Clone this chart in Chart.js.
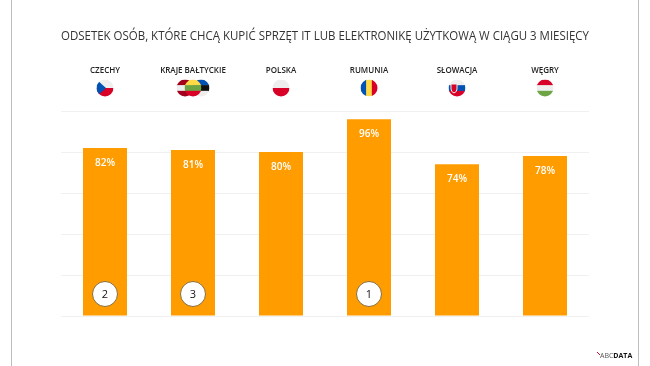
<!DOCTYPE html>
<html lang="pl">
<head>
<meta charset="utf-8">
<title>Odsetek osób</title>
<script src="https://cdn.jsdelivr.net/npm/chart.js@4"></script>
<style>
    html, body { margin: 0; padding: 0; background: #fff; }
    canvas { display: block; }
</style>
</head>
<body>
<canvas id="chart" width="650" height="366"></canvas>
<script>
// ============================================================================
// DATA
// ============================================================================

const chartTitle = 'ODSETEK OSÓB, KTÓRE CHCĄ KUPIĆ SPRZĘT IT LUB ELEKTRONIKĘ UŻYTKOWĄ W CIĄGU 3 MIESIĘCY';
const countries = ['CZECHY', 'KRAJE BAŁTYCKIE', 'POLSKA', 'RUMUNIA', 'SŁOWACJA', 'WĘGRY'];
const percentValues = [82, 81, 80, 96, 74, 78];
const rankBadges = [2, 3, null, 1, null, null];
const logoLight = 'ABC';
const logoBold = 'DATA';

// Flag stripes per country: h = horizontal, v = vertical
const FLAGS = {
    cz: { dir: 'h', colors: ['#eeeeee', '#d80027'] },
    lv: { dir: 'h', colors: ['#a2001d', '#eeeeee', '#a2001d'] },
    lt: { dir: 'h', colors: ['#ffda44', '#6da544', '#d80027'] },
    ee: { dir: 'h', colors: ['#0052b4', '#111111', '#eeeeee'] },
    pl: { dir: 'h', colors: ['#eeeeee', '#d80027'] },
    ro: { dir: 'v', colors: ['#0052b4', '#ffda44', '#d80027'] },
    sk: { dir: 'h', colors: ['#eeeeee', '#0052b4', '#d80027'] },
    hu: { dir: 'h', colors: ['#d80027', '#eeeeee', '#6da544'] }
};
const countryFlags = [['cz'], ['lv', 'ee', 'lt'], ['pl'], ['ro'], ['sk'], ['hu']];

// ============================================================================
// DRAWING HELPERS
// ============================================================================

const FONT = '"Open Sans", sans-serif';
const FLAG_R = 8.5;
const FLAG_Y = 88;

function drawFlag(ctx, code, cx, cy) {
    const flag = FLAGS[code];
    const d = FLAG_R * 2;
    ctx.save();
    ctx.beginPath();
    ctx.arc(cx, cy, FLAG_R, 0, Math.PI * 2);
    ctx.clip();
    flag.colors.forEach((c, i) => {
        const step = d / flag.colors.length;
        ctx.fillStyle = c;
        if (flag.dir === 'h') ctx.fillRect(cx - FLAG_R, cy - FLAG_R + i * step, d, step + 0.5);
        else ctx.fillRect(cx - FLAG_R + i * step, cy - FLAG_R, step + 0.5, d);
    });
    if (code === 'cz') {
        // Blue wedge on the hoist side
        ctx.fillStyle = '#0052b4';
        ctx.beginPath();
        ctx.moveTo(cx - FLAG_R, cy - FLAG_R);
        ctx.lineTo(cx + 1, cy);
        ctx.lineTo(cx - FLAG_R, cy + FLAG_R);
        ctx.fill();
    }
    if (code === 'sk') {
        // Small shield
        ctx.fillStyle = '#d80027';
        ctx.strokeStyle = '#eeeeee';
        ctx.beginPath();
        ctx.moveTo(cx - 6, cy - 4);
        ctx.lineTo(cx, cy - 4);
        ctx.lineTo(cx, cy + 1);
        ctx.quadraticCurveTo(cx, cy + 4, cx - 3, cy + 5);
        ctx.quadraticCurveTo(cx - 6, cy + 4, cx - 6, cy + 1);
        ctx.closePath();
        ctx.fill();
        ctx.stroke();
    }
    ctx.restore();
}

const decorPlugin = {
    id: 'decor',
    beforeDraw(chart) {
        const { ctx, width, height } = chart;
        ctx.save();
        ctx.fillStyle = '#fff';
        ctx.fillRect(0, 0, width, height);
        // Slide edges
        ctx.fillStyle = '#bdbdbd';
        ctx.fillRect(11, 0, 1, height);
        ctx.fillRect(638, 0, 1, height);
        ctx.restore();
    },
    afterDatasetsDraw(chart) {
        const { ctx, scales } = chart;
        const meta = chart.getDatasetMeta(0);
        ctx.save();

        // Flags under the country names
        countryFlags.forEach((codes, i) => {
            const x = scales.x.getPixelForValue(i);
            if (codes.length === 1) drawFlag(ctx, codes[0], x, FLAG_Y);
            else {
                drawFlag(ctx, codes[0], x - 8, FLAG_Y);
                drawFlag(ctx, codes[1], x + 8, FLAG_Y);
                drawFlag(ctx, codes[2], x, FLAG_Y);
            }
        });

        // Value labels inside the bars
        ctx.textAlign = 'center';
        ctx.textBaseline = 'middle';
        ctx.fillStyle = '#fff';
        ctx.font = '600 10px ' + FONT;
        meta.data.forEach((bar, i) => {
            ctx.fillText(percentValues[i] + '%', bar.x, bar.y + 15);
        });

        // Ranking badges at the foot of the bars
        rankBadges.forEach((rank, i) => {
            if (rank === null) return;
            const x = meta.data[i].x;
            const y = scales.y.getPixelForValue(0) - 22;
            ctx.beginPath();
            ctx.arc(x, y, 12.5, 0, Math.PI * 2);
            ctx.fillStyle = '#fff';
            ctx.fill();
            ctx.lineWidth = 1;
            ctx.strokeStyle = '#8a6d3b';
            ctx.stroke();
            ctx.fillStyle = '#111';
            ctx.font = '11px ' + FONT;
            ctx.fillText(String(rank), x, y + 0.5);
        });

        // Logo
        ctx.textAlign = 'left';
        ctx.strokeStyle = '#c8102e';
        ctx.lineWidth = 1;
        ctx.beginPath();
        ctx.moveTo(597, 352);
        ctx.lineTo(600, 355);
        ctx.stroke();
        ctx.fillStyle = '#555';
        ctx.font = '7px ' + FONT;
        ctx.fillText(logoLight, 600, 355.5);
        const w = ctx.measureText(logoLight).width;
        ctx.fillStyle = '#111';
        ctx.font = 'bold 7px ' + FONT;
        ctx.fillText(logoBold, 600 + w, 355.5);
        ctx.restore();
    }
};

// ============================================================================
// CHART
// ============================================================================

new Chart(document.getElementById('chart').getContext('2d'), {
    type: 'bar',
    data: {
        labels: countries,
        datasets: [{
            data: percentValues,
            backgroundColor: '#ff9c00',
            categoryPercentage: 0.5,
            barPercentage: 1
        }]
    },
    options: {
        responsive: false,
        animation: false,
        layout: { padding: { left: 61, right: 61, top: 0, bottom: 50 } },
        scales: {
            x: {
                position: 'top',
                grid: { display: false },
                border: { display: false },
                afterFit: (axis) => { axis.height = 67; },
                ticks: {
                    color: '#222',
                    font: { family: FONT, size: 8, weight: '600' },
                    padding: 27,
                    maxRotation: 0,
                    autoSkip: false
                }
            },
            y: {
                min: 0,
                max: 100,
                afterBuildTicks: (axis) => { axis.ticks = [0, 20, 40, 60, 80, 100].map(v => ({ value: v })); },
                grid: { color: '#f0f0f0', lineWidth: 1, drawTicks: false },
                border: { display: false },
                ticks: { display: false }
            }
        },
        plugins: {
            legend: { display: false },
            tooltip: { enabled: false },
            title: {
                display: true,
                text: chartTitle,
                color: '#333',
                font: { family: FONT, size: 12.5, weight: '400' },
                padding: { top: 29, bottom: 0 }
            }
        }
    },
    plugins: [decorPlugin]
});
</script>
</body>
</html>
